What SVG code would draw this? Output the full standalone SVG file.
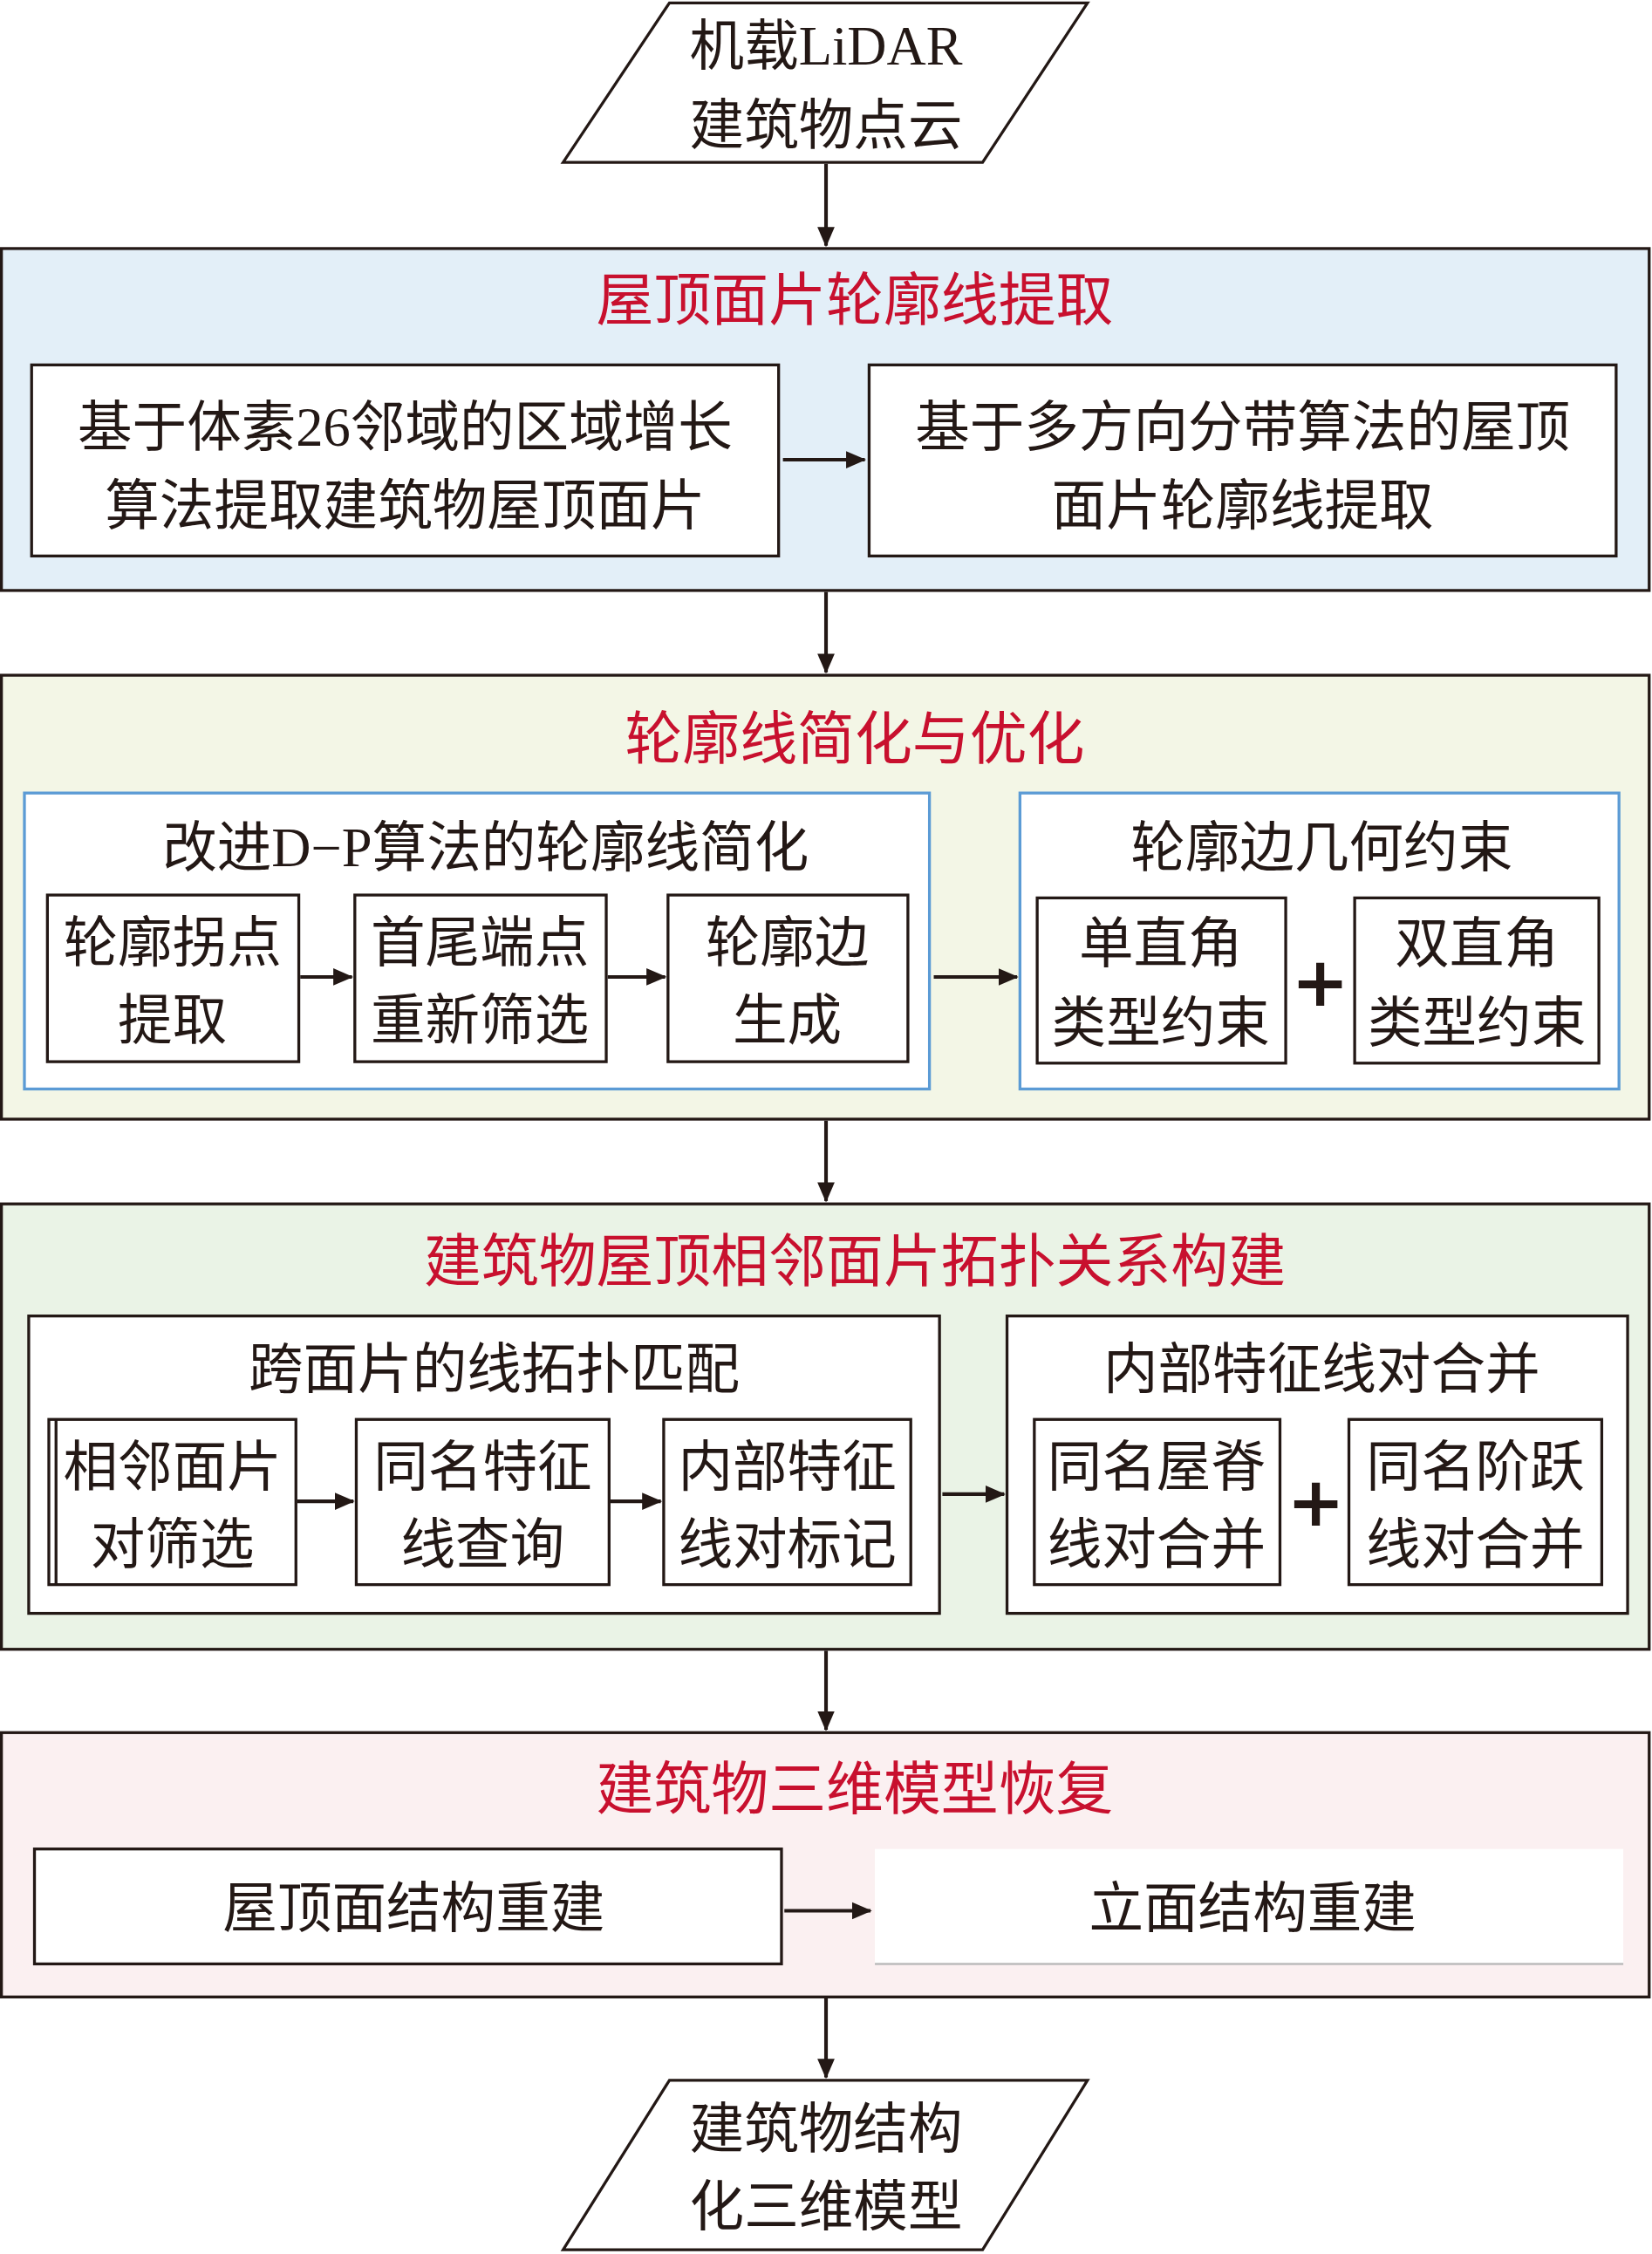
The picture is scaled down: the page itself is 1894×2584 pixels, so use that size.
<svg xmlns="http://www.w3.org/2000/svg" width="1894" height="2584" viewBox="0 0 1894 2584">
<defs>
<marker id="ah" markerWidth="14" markerHeight="14" refX="13" refY="7" orient="auto" markerUnits="userSpaceOnUse"><path d="M0,1 L14,7 L0,13 z" fill="#231815"/></marker>
<style>
text{font-family:"Liberation Serif","Noto Sans CJK SC",serif;fill:#231815;text-anchor:middle;font-size:38px}
.t{fill:#c8102e;font-size:40px}
.b{fill:#fff;stroke:#231815;stroke-width:2}
.s{stroke:#231815;stroke-width:2}
.bl{fill:#fff;stroke:#5b9bd5;stroke-width:2}
.c{stroke:#231815;stroke-width:2.5;fill:none;marker-end:url(#ah)}
.p{font-size:48px;font-weight:bold;font-family:"DejaVu Sans",sans-serif}
</style>
</defs>
<rect width="1894" height="2584" fill="#fff"/>
<g transform="scale(1.647)">
<g id="input"><polygon class="b" points="392,113 466,2 757,2 684,113"/><text x="575" y="45">机载LiDAR</text><text x="575" y="100">建筑物点云</text></g>
<g id="sec1"><rect class="s" x="1" y="173" width="1147" height="238" fill="#e3eff8"/><text class="t" x="595" y="223">屋顶面片轮廓线提取</text>
<rect class="b" x="22" y="254" width="520" height="133"/><text x="282" y="310">基于体素26邻域的区域增长</text><text x="282" y="365">算法提取建筑物屋顶面片</text>
<rect class="b" x="605" y="254" width="520" height="133"/><text x="865" y="310">基于多方向分带算法的屋顶</text><text x="865" y="365">面片轮廓线提取</text></g>
<g id="sec2"><rect class="s" x="1" y="470" width="1147" height="309" fill="#f3f6e6"/><text class="t" x="595" y="528">轮廓线简化与优化</text>
<rect class="bl" x="17" y="552" width="630" height="206"/><text x="338" y="603">改进D−P算法的轮廓线简化</text>
<rect class="b" x="33" y="623" width="175" height="116"/><text x="120" y="669">轮廓拐点</text><text x="120" y="723">提取</text>
<rect class="b" x="247" y="623" width="175" height="116"/><text x="334" y="669">首尾端点</text><text x="334" y="723">重新筛选</text>
<rect class="b" x="465" y="623" width="167" height="116"/><text x="548" y="669">轮廓边</text><text x="548" y="723">生成</text>
<rect class="bl" x="710" y="552" width="417" height="206"/><text x="920" y="603">轮廓边几何约束</text>
<rect class="b" x="722" y="625" width="173" height="115"/><text x="808" y="670">单直角</text><text x="808" y="725">类型约束</text>
<rect class="b" x="943" y="625" width="170" height="115"/><text x="1028" y="670">双直角</text><text x="1028" y="725">类型约束</text>
<text class="p" x="919" y="700">+</text></g>
<g id="sec3"><rect class="s" x="1" y="838" width="1147" height="310" fill="#eaf3e6"/><text class="t" x="595" y="892">建筑物屋顶相邻面片拓扑关系构建</text>
<rect class="b" x="20" y="916" width="634" height="207"/><text x="344" y="966">跨面片的线拓扑匹配</text>
<rect class="b" x="34" y="988" width="172" height="115"/><line class="s" x1="39" y1="988" x2="39" y2="1103"/><text x="120" y="1034">相邻面片</text><text x="120" y="1088">对筛选</text>
<rect class="b" x="248" y="988" width="176" height="115"/><text x="336" y="1034">同名特征</text><text x="336" y="1088">线查询</text>
<rect class="b" x="462" y="988" width="172" height="115"/><text x="548" y="1034">内部特征</text><text x="548" y="1088">线对标记</text>
<rect class="b" x="701" y="916" width="432" height="207"/><text x="920" y="966">内部特征线对合并</text>
<rect class="b" x="720" y="988" width="171" height="115"/><text x="805" y="1034">同名屋脊</text><text x="805" y="1088">线对合并</text>
<rect class="b" x="939" y="988" width="176" height="115"/><text x="1027" y="1034">同名阶跃</text><text x="1027" y="1088">线对合并</text>
<text class="p" x="916" y="1062">+</text></g>
<g id="sec4"><rect class="s" x="1" y="1206" width="1147" height="184" fill="#fbf0f1"/><text class="t" x="595" y="1259">建筑物三维模型恢复</text>
<rect class="b" x="24" y="1287" width="520" height="80"/><text x="288" y="1341">屋顶面结构重建</text>
<rect x="609" y="1287" width="521" height="80" fill="#fff"/><line x1="609" y1="1367" x2="1130" y2="1367" stroke="#bbb" stroke-width="1.5"/><text x="872" y="1341">立面结构重建</text></g>
<g id="output"><polygon class="b" points="392,1566 466,1448 757,1448 684,1566"/><text x="575" y="1495">建筑物结构</text><text x="575" y="1549">化三维模型</text></g>
<g id="connectors">
<line class="c" x1="575" y1="114" x2="575" y2="171"/>
<line class="c" x1="575" y1="412" x2="575" y2="468"/>
<line class="c" x1="575" y1="780" x2="575" y2="836"/>
<line class="c" x1="575" y1="1149" x2="575" y2="1204"/>
<line class="c" x1="575" y1="1391" x2="575" y2="1446"/>
<line class="c" x1="545" y1="320" x2="602" y2="320"/>
<line class="c" x1="209" y1="680" x2="245" y2="680"/>
<line class="c" x1="423" y1="680" x2="463" y2="680"/>
<line class="c" x1="650" y1="680" x2="708" y2="680"/>
<line class="c" x1="207" y1="1045" x2="246" y2="1045"/>
<line class="c" x1="425" y1="1045" x2="460" y2="1045"/>
<line class="c" x1="656" y1="1040" x2="699" y2="1040"/>
<line class="c" x1="546" y1="1330" x2="606" y2="1330"/>
</g>
</g>
</svg>
